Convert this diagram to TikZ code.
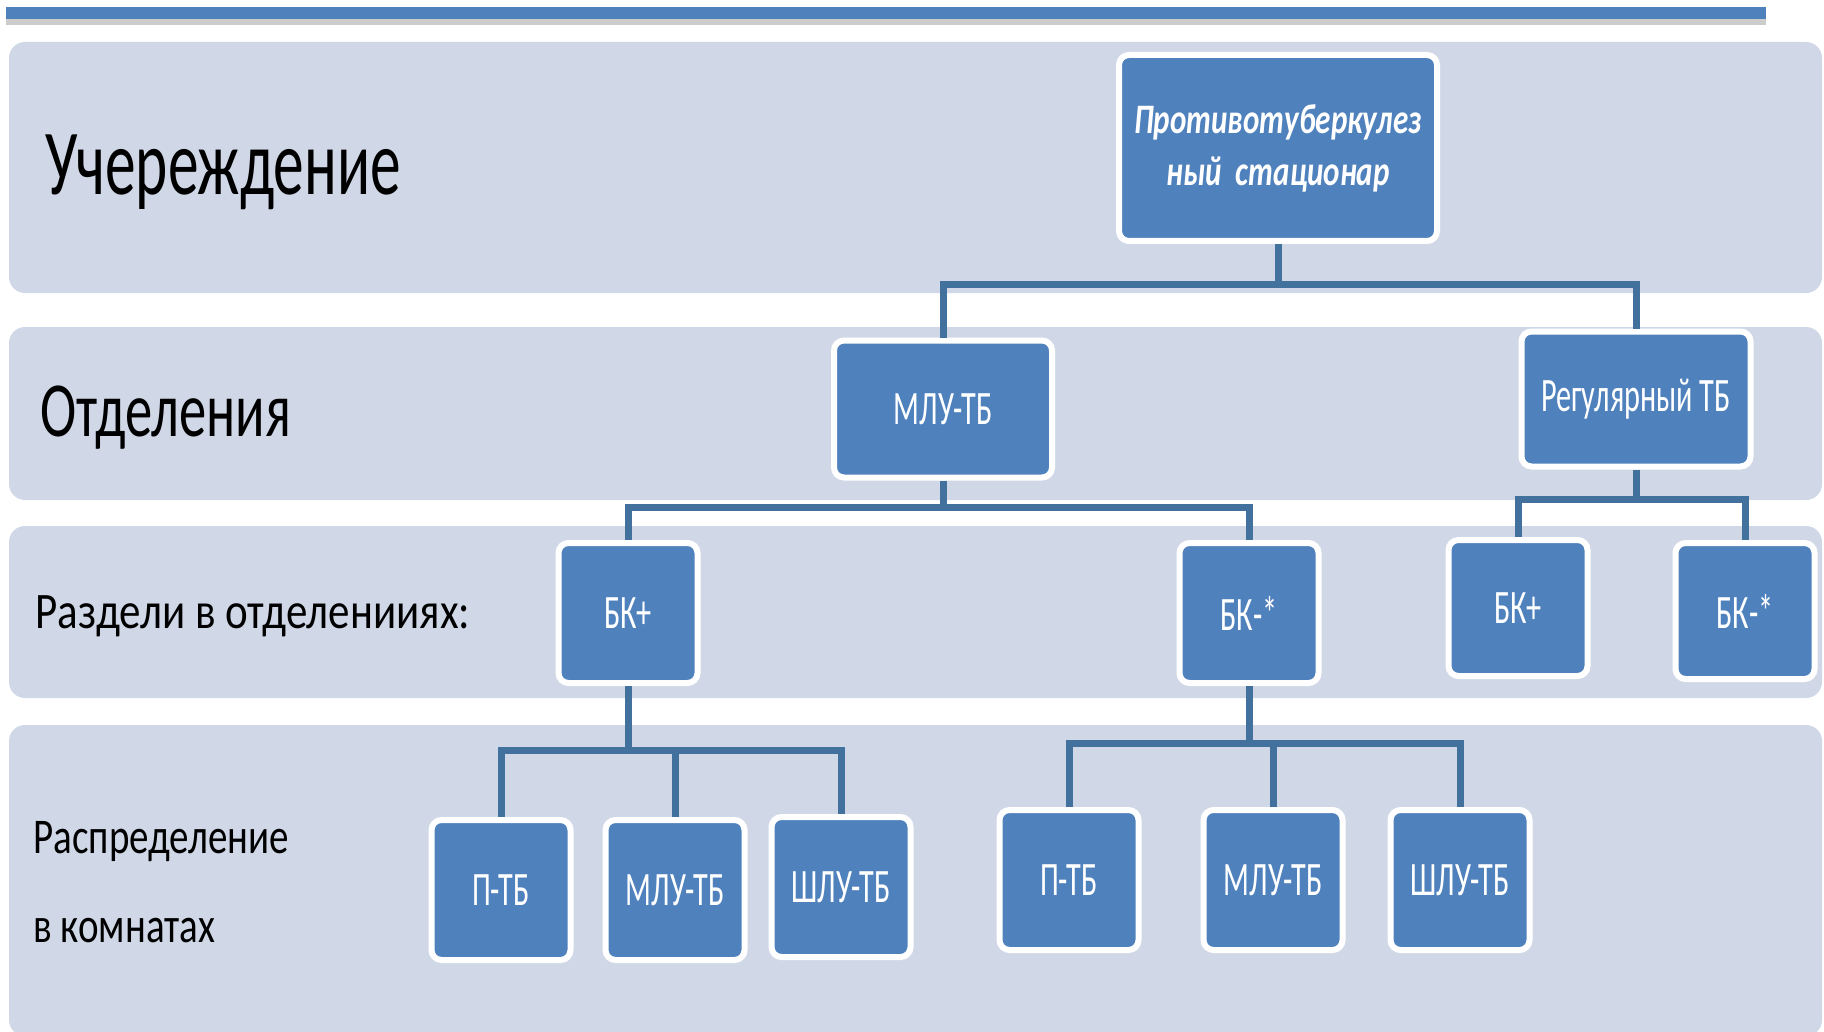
\documentclass[tikz,border=0pt]{standalone}
\usepackage{fontspec}
\setmainfont{Carlito}
\newfontfamily\bandfont{Carlito}
\newfontfamily\boxfont[FakeStretch=0.63]{Carlito}
\newfontfamily\topfont[FakeStretch=0.74]{Carlito}
\definecolor{BAND}{HTML}{D0D8E8}
\definecolor{BLUE}{HTML}{4F81BD}
\definecolor{LINK}{HTML}{41719C}
\usetikzlibrary{shadows,positioning,calc}

\begin{document}
\begin{tikzpicture}
[x=0.5pt, y=-0.5pt,
band/.style={fill=BAND, rounded corners=8pt},
block/.style={rectangle, draw=white, fill=BLUE, line width=3pt, rounded corners=5pt,
text=white, align=center, inner sep=0pt, font=\boxfont\fontsize{24}{28}\selectfont},
leaf/.style={block, minimum width=69.5pt, minimum height=70pt},
lbl/.style={anchor=base west, inner sep=0pt, align=left},
dedge/.style={LINK, line width=3.5pt}]
\useasboundingbox (0,0) rectangle (1824,1032);
\fill[BLUE, drop shadow={shadow xshift=0pt, shadow yshift=-3pt, opacity=.4}] (6,7) rectangle (1766,19);
\fill[band] (9,42) rectangle (1822,293);
\fill[band] (9,327) rectangle (1822,500);
\fill[band] (9,526) rectangle (1822,698);
\fill[band] (9,725) rectangle (1822,1036);

\node[lbl, font=\bandfont\addfontfeatures{FakeStretch=0.66}\fontsize{46.5}{50}\selectfont] (L1) at (45,195) {Учереждение};
\node[lbl, font=\bandfont\addfontfeatures{FakeStretch=0.70}\fontsize{39}{44}\selectfont] (L2) at (40,436) {Отделения};
\node[lbl, font=\bandfont\addfontfeatures{FakeStretch=0.84}\fontsize{25.6}{30}\selectfont] (L3) at (35,628) {Раздели в отделенииях:};
\node[lbl, font=\bandfont\addfontfeatures{FakeStretch=0.78}\fontsize{25}{44.5}\selectfont] (L4) at (33,942) {Распределение\\в комнатах};

\node[block, minimum width=159pt, minimum height=93pt,
font=\topfont\bfseries\itshape\fontsize{21}{26}\selectfont] (T) at (1278,148)
{Противотуберкулез\\ный~~стационар};
\node[block, minimum width=109pt, minimum height=68.5pt] (M) at (943,409) {МЛУ-ТБ};
\node[block, minimum width=114.5pt, minimum height=67.5pt] (R) at (1636,399) {Регулярный ТБ};
\node[leaf] (B1) at (628,613) {БК+};
\node[leaf] (B2) at (1249,613) {БК-*};
\node[leaf, minimum height=68pt] (B3) at (1518,608) {БК+};
\node[leaf, minimum height=68pt] (B4) at (1745,611) {БК-*};
\node[leaf] (P1) at (501,890) {П-ТБ};
\node[leaf] (M1) at (675,890) {МЛУ-ТБ};
\node[leaf] (S1) at (841,887) {ШЛУ-ТБ};
\node[leaf] (P2) at (1069,880) {П-ТБ};
\node[leaf] (M2) at (1273,880) {МЛУ-ТБ};
\node[leaf] (S2) at (1460,880) {ШЛУ-ТБ};

\draw[dedge] (T.south) -- ++(0,40) -| (M.north);
\draw[dedge] (T.south) -- ++(0,40) -| (R.north);
\draw[dedge] (M.south) -- ++(0,27) -| (B1.north);
\draw[dedge] (M.south) -- ++(0,27) -| (B2.north);
\draw[dedge] (R.south) -- ++(0,30) -| (B3.north);
\draw[dedge] (R.south) -- ++(0,30) -| (B4.north);
\draw[dedge] (B1.south) -- ++(0,64) -| (P1.north);
\draw[dedge] (B1.south) -- ++(0,64) -| (M1.north);
\draw[dedge] (B1.south) -- ++(0,64) -| (S1.north);
\draw[dedge] (B2.south) -- ++(0,57) -| (P2.north);
\draw[dedge] (B2.south) -- ++(0,57) -| (M2.north);
\draw[dedge] (B2.south) -- ++(0,57) -| (S2.north);
\end{tikzpicture}
\end{document}
